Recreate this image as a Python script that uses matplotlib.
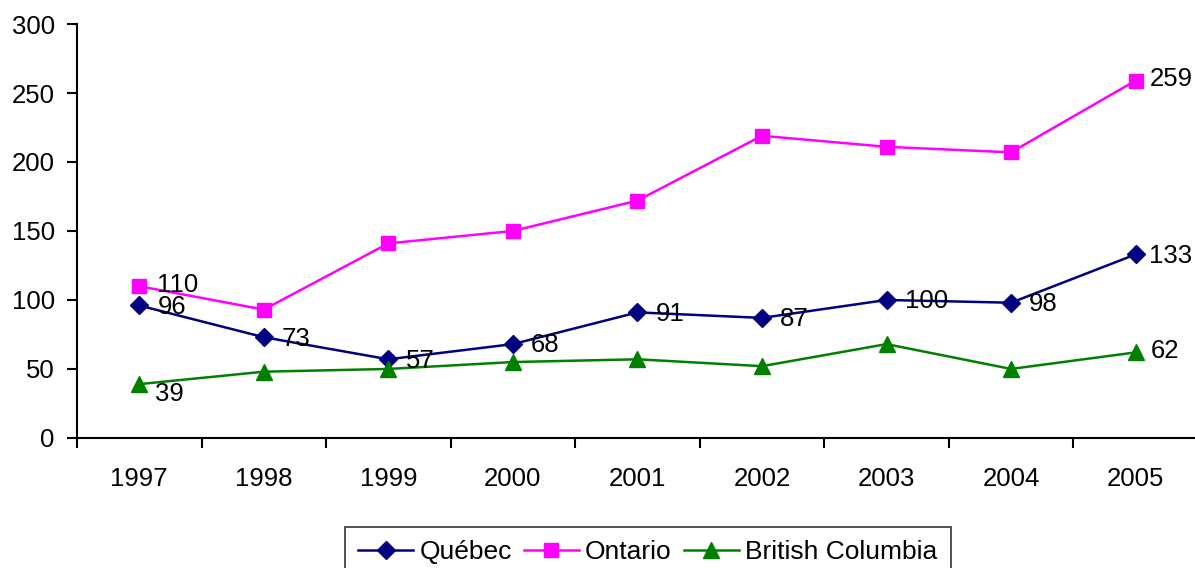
import matplotlib
matplotlib.use('Agg')
import matplotlib.pyplot as plt

plt.rcParams['font.family'] = ['Liberation Sans', 'DejaVu Sans']

years = ['1997', '1998', '1999', '2000', '2001', '2002', '2003', '2004', '2005']
quebec = [96, 73, 57, 68, 91, 87, 100, 98, 133]
ontario = [110, 93, 141, 150, 172, 219, 211, 207, 259]
bc = [39, 48, 50, 55, 57, 52, 68, 50, 62]

# which points get a value label
quebec_lbl = [0, 1, 2, 3, 4, 5, 6, 7, 8]
ontario_lbl = [0, 8]
bc_lbl = [0, 8]

fig = plt.figure(figsize=(11.95, 5.68), dpi=100)
ax = fig.add_axes([0.0644, 0.229, 0.938, 0.7287])

x = list(range(len(years)))
ax.plot(x, quebec, color='#000080', lw=1.8, marker='D', ms=9, label='Québec')
ax.plot(x, ontario, color='#FF00FF', lw=1.8, marker='s', ms=10.5, label='Ontario')
ax.plot(x, bc, color='#008000', lw=1.8, marker='^', ms=11, label='British Columbia')

fs = 18.5
last = len(years) - 1
for i in quebec_lbl:
    dx = 10 if i == last else 13
    ax.annotate(str(quebec[i]), (x[i], quebec[i]), xytext=(dx, -1), textcoords='offset points',
                va='center', ha='left', fontsize=fs)
for i in ontario_lbl:
    dx = 10 if i == last else 13
    ax.annotate(str(ontario[i]), (x[i], ontario[i]), xytext=(dx, 1), textcoords='offset points',
                va='center', ha='left', fontsize=fs)
for i in bc_lbl:
    dy = -7 if i == 0 else 1
    ax.annotate(str(bc[i]), (x[i], bc[i]), xytext=(11, dy), textcoords='offset points',
                va='center', ha='left', fontsize=fs)

ax.set_xlim(-0.5, len(years) - 0.5)
ax.set_ylim(0, 300)
ax.set_yticks(range(0, 301, 50))
ax.set_xticks(x)
ax.set_xticklabels(years)
ax.set_xticks([i - 0.5 for i in range(len(years) + 1)], minor=True)
ax.tick_params(axis='x', which='major', length=0, pad=21, labelsize=fs)
ax.tick_params(axis='x', which='minor', length=7, width=1.5, direction='out')
ax.tick_params(axis='y', length=7, width=1.5, labelsize=fs, pad=9)

ax.spines['top'].set_visible(False)
ax.spines['right'].set_visible(False)
ax.spines['left'].set_linewidth(1.5)
ax.spines['bottom'].set_linewidth(1.5)

leg = fig.legend(loc='lower center', bbox_to_anchor=(0.542, -0.039), ncol=3, fontsize=19,
                 frameon=True, fancybox=False, edgecolor='black', handlelength=2.1,
                 handletextpad=0.23, columnspacing=0.45, borderpad=0.5)
leg.get_frame().set_linewidth(1.2)

fig.savefig('out.png', dpi=100)
